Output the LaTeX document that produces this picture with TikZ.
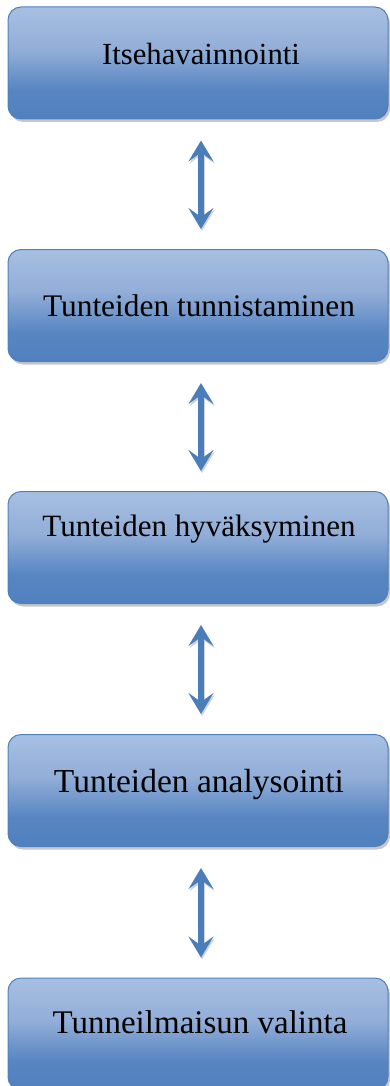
\documentclass[tikz,border=0pt]{standalone}
\usepackage{fontspec}
\setmainfont{Liberation Serif}
\usetikzlibrary{arrows.meta,shadows}

\definecolor{btop}{RGB}{167,191,225}
\definecolor{bmid}{RGB}{146,174,216}
\definecolor{bbot}{RGB}{80,128,191}
\definecolor{bline}{RGB}{79,129,189}
\definecolor{arrowblue}{RGB}{74,126,187}

% light blue at the top fading into the darker blue of the lower part
\pgfdeclareverticalshading{boxshade}{100bp}{%
  color(0bp)=(bbot); color(25bp)=(bbot); color(38bp)=(bbot!88!bmid);
  color(56bp)=(bmid); color(75bp)=(btop); color(100bp)=(btop)}

\tikzset{
  stepbox/.style={rectangle, rounded corners=13pt, draw=bline, line width=1pt,
    shading=boxshade, minimum width=380pt, minimum height=112pt, inner sep=0pt,
    drop shadow={shadow xshift=2pt, shadow yshift=-3pt, fill=black!22, opacity=1}},
  caption/.style={anchor=base, text=black, inner sep=0pt},
  headtip/.tip={Stealth[length=21pt, width=25pt, inset=9pt]},
  link/.style={draw=arrowblue, line width=6pt, headtip-headtip},
  linkshadow/.style={draw=black!18, line width=6pt, headtip-headtip}
}

\begin{document}
\begin{tikzpicture}[x=1pt, y=-1pt]
  \useasboundingbox (0,0) rectangle (390,1086);

  % process steps
  \node[stepbox] (b1) at (198,63)     {};
  \node[stepbox] (b2) at (198,305.5)  {};
  \node[stepbox] (b3) at (198,547.5)  {};
  \node[stepbox] (b4) at (198,790.5)  {};
  \node[stepbox] (b5) at (198,1034)   {};

  % step captions
  \node[caption, font=\fontsize{30.7}{32}\selectfont] (t1) at (201,65)   {Itsehavainnointi};
  \node[caption, font=\fontsize{31.4}{33}\selectfont] (t2) at (199,316)  {Tunteiden tunnistaminen};
  \node[caption, font=\fontsize{31}{33}\selectfont]   (t3) at (199,536)  {Tunteiden hyväksyminen};
  \node[caption, font=\fontsize{33.5}{35}\selectfont] (t4) at (199,792)  {Tunteiden analysointi};
  \node[caption, font=\fontsize{33}{35}\selectfont]   (t5) at (200,1033) {Tunneilmaisun valinta};

  % two-way arrows between consecutive steps, each with a soft shadow
  \foreach \a/\b in {b1/b2, b2/b3, b3/b4, b4/b5}{
    \draw[linkshadow, shorten <=23pt, shorten >=18pt]
      ([xshift=4pt]\a.south) -- ([xshift=4pt]\b.north);
    \draw[link, shorten <=21pt, shorten >=20pt]
      ([xshift=3pt]\a.south) -- ([xshift=3pt]\b.north);
  }
\end{tikzpicture}
\end{document}
